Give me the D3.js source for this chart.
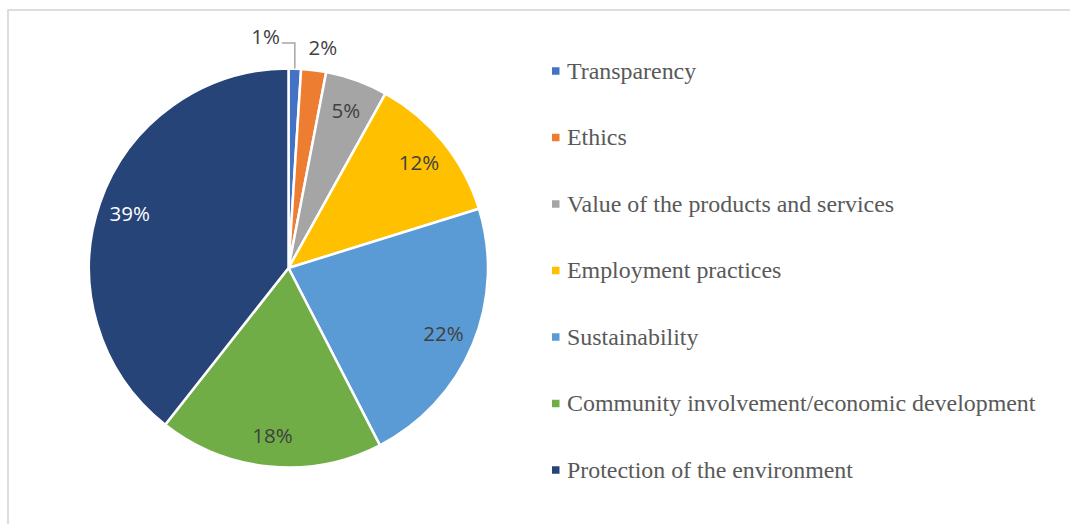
<!DOCTYPE html>
<html>
<head>
<meta charset="utf-8">
<script src="https://cdn.jsdelivr.net/npm/d3@7"></script>
<style>
  html, body { margin: 0; padding: 0; background: #ffffff; }
  svg { display: block; }
</style>
</head>
<body>
<svg id="chart" width="1070" height="524"></svg>
<script>
// Share of responses by CSR topic (percent)
const categories = [
  "Transparency",
  "Ethics",
  "Value of the products and services",
  "Employment practices",
  "Sustainability",
  "Community involvement/economic development",
  "Protection of the environment"
];
const values = [1, 2, 5, 12, 22, 18, 39];
const colors = ["#4472c4", "#ed7d31", "#a5a5a5", "#ffc000", "#5b9bd5", "#70ad47", "#264478"];
const labelColors = ["#404040", "#404040", "#404040", "#404040", "#404040", "#404040", "#ffffff"];

const svg = d3.select("#chart");

// Chart frame (only top and left edges fall inside the view)
svg.append("rect")
  .attr("x", 8).attr("y", 10)
  .attr("width", 1080).attr("height", 530)
  .attr("fill", "none")
  .attr("stroke", "#d9d9d9")
  .attr("stroke-width", 1.75);

const cx = 288.5, cy = 268, R = 199.5;

const pie = d3.pie().sort(null).value(d => d)(values);
const arc = d3.arc().innerRadius(0).outerRadius(R);
const labelArc = d3.arc().innerRadius(168).outerRadius(168);

const g = svg.append("g").attr("transform", `translate(${cx},${cy})`);

g.selectAll("path.slice")
  .data(pie)
  .join("path")
  .attr("class", "slice")
  .attr("d", arc)
  .attr("fill", (d, i) => colors[i])
  .attr("stroke", "#ffffff")
  .attr("stroke-width", 2.5)
  .attr("stroke-linejoin", "round");

const labelFont = "'Open Sans', 'Noto Sans', sans-serif";
const labelSize = 20.5;

// Inside labels for the larger slices
pie.forEach((d, i) => {
  const pct = values[i] + "%";
  if (values[i] >= 5) {
    const [x, y] = labelArc.centroid(d);
    g.append("text")
      .attr("x", x).attr("y", y)
      .attr("text-anchor", "middle")
      .attr("dominant-baseline", "central")
      .attr("font-family", labelFont)
      .attr("font-size", labelSize)
      .attr("fill", labelColors[i])
      .text(pct);
  }
});

// Small slices: labels outside the pie
const smallOuter = d3.arc().innerRadius(R).outerRadius(R);
// Ethics (2%) label sits just above its slice
{
  const d = pie[1];
  const [x] = smallOuter.centroid(d);
  g.append("text")
    .attr("x", x + 9).attr("y", -221)
    .attr("text-anchor", "middle")
    .attr("dominant-baseline", "central")
    .attr("font-family", labelFont)
    .attr("font-size", labelSize)
    .attr("fill", "#404040")
    .text(values[1] + "%");
}
// Transparency (1%) label with leader line
{
  const d = pie[0];
  const [x, y] = smallOuter.centroid(d);
  const lineY = -225;
  g.append("path")
    .attr("d", d3.line()([[x, y], [x, lineY], [x - 13, lineY]]))
    .attr("fill", "none")
    .attr("stroke", "#a6a6a6")
    .attr("stroke-width", 1.5);
  g.append("text")
    .attr("x", x - 15).attr("y", -232)
    .attr("text-anchor", "end")
    .attr("dominant-baseline", "central")
    .attr("font-family", labelFont)
    .attr("font-size", labelSize)
    .attr("fill", "#404040")
    .text(values[0] + "%");
}

// Legend
const legendY = d3.scalePoint().domain(categories).range([71, 470]);
const legend = svg.append("g");
const rows = legend.selectAll("g.row")
  .data(categories)
  .join("g")
  .attr("class", "row")
  .attr("transform", d => `translate(0,${legendY(d)})`);

rows.append("rect")
  .attr("x", 552).attr("y", -3.75)
  .attr("width", 7.5).attr("height", 7.5)
  .attr("fill", (d, i) => colors[i]);

rows.append("text")
  .attr("x", 567).attr("y", 7.5)
  .attr("font-family", "'Liberation Serif', 'Times New Roman', serif")
  .attr("font-size", 23.9)
  .attr("fill", "#595959")
  .text(d => d);
</script>
</body>
</html>
